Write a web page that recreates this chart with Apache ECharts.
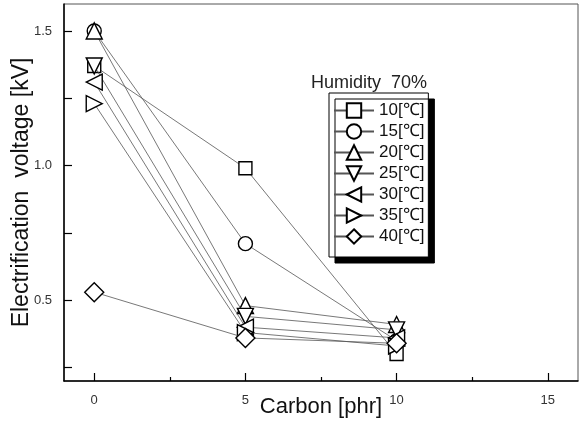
<!DOCTYPE html>
<html>
<head>
<meta charset="utf-8">
<script src="https://cdn.jsdelivr.net/npm/echarts@6/dist/echarts.min.js"></script>
<style>html,body{margin:0;padding:0;background:#fff}#c{width:582px;height:422px}</style>
</head>
<body>
<div id="c"></div>
<script>
var carbon = [0, 5, 10];
var seriesNames = ['10[℃]', '15[℃]', '20[℃]', '25[℃]', '30[℃]', '35[℃]', '40[℃]'];
var t10 = [1.37, 0.99, 0.30];
var t15 = [1.50, 0.71, 0.35];
var t20 = [1.50, 0.48, 0.41];
var t25 = [1.37, 0.44, 0.39];
var t30 = [1.31, 0.40, 0.36];
var t35 = [1.23, 0.38, 0.33];
var t40 = [0.53, 0.36, 0.34];
var xTickLabels = [0, 5, 10, 15];
var xMinorTicks = [2.5, 7.5, 12.5];
var yTickLabels = [0.5, 1.0, 1.5];
var yTicks = [0.25, 0.5, 0.75, 1.0, 1.25, 1.5];
var legendTitle = 'Humidity  70%';

var values = [t10, t15, t20, t25, t30, t35, t40];
var symbols = ['rect', 'circle', 'triangle', 'triangle', 'triangle', 'triangle', 'diamond'];
var rotates = [0, 0, 0, 180, 90, -90, 0];
var sizes = [13, 14, 16, 16, 16, 16, 19];
var FONT = 'Liberation Sans, Arial, sans-serif';

var series = values.map(function (v, i) {
  return {
    name: seriesNames[i],
    type: 'line',
    data: carbon.map(function (c, j) { return [c, v[j]]; }),
    symbol: symbols[i],
    symbolRotate: rotates[i],
    symbolSize: sizes[i],
    showAllSymbol: true,
    lineStyle: { color: '#555', width: 0.8 },
    itemStyle: { color: '#fff', borderColor: '#000', borderWidth: 1.4 },
    emphasis: { disabled: true },
    animation: false,
    z: 2 + i
  };
});

var chart = echarts.init(document.getElementById('c'), null, { renderer: 'canvas' });
chart.setOption({
  animation: false,
  backgroundColor: '#fff',
  title: {
    text: legendTitle,
    left: 311, top: 74,
    textStyle: { fontFamily: FONT, fontSize: 18, fontWeight: 'normal', color: '#222' },
    padding: 0
  },
  legend: {
    orient: 'vertical',
    left: 329, top: 93,
    itemWidth: 40, itemHeight: 18, itemGap: 4,
    padding: [9, 4, 12, 4],
    backgroundColor: '#fff',
    borderColor: '#000', borderWidth: 1,
    shadowColor: '#000', shadowBlur: 0, shadowOffsetX: 6, shadowOffsetY: 6,
    textStyle: { fontFamily: FONT, fontSize: 17, color: '#111' },
    data: seriesNames
  },
  grid: {
    left: 64, right: 4, top: 4, bottom: 41,
    outerBoundsMode: 'none', containLabel: false,
    show: true, borderColor: '#555', borderWidth: 1, backgroundColor: 'transparent'
  },
  xAxis: [{
    type: 'value', min: -1, max: 16,
    name: 'Carbon [phr]', nameLocation: 'middle', nameGap: 15, nameMoveOverlap: false,
    nameTextStyle: { fontFamily: FONT, fontSize: 22, color: '#111' },
    axisLine: { onZero: false, lineStyle: { color: '#000', width: 1.5 } },
    axisTick: { inside: true, length: 8, customValues: xTickLabels, lineStyle: { color: '#000', width: 1.2 } },
    axisLabel: { customValues: xTickLabels, margin: 13, fontFamily: FONT, fontSize: 13, color: '#333' },
    splitLine: { show: false }
  }, {
    type: 'value', min: -1, max: 16, position: 'bottom',
    axisLine: { show: false, onZero: false },
    axisTick: { inside: true, length: 4, customValues: xMinorTicks, lineStyle: { color: '#000', width: 1.2 } },
    axisLabel: { show: false },
    splitLine: { show: false }
  }],
  yAxis: {
    type: 'value', min: 0.2, max: 1.6,
    name: 'Electrification  voltage [kV]', nameLocation: 'middle', nameGap: 31, nameMoveOverlap: false,
    nameTextStyle: { fontFamily: FONT, fontSize: 23, color: '#111' },
    axisLine: { show: true, onZero: false, lineStyle: { color: '#000', width: 1.5 } },
    axisTick: { show: true, inside: true, length: 8, customValues: yTicks, lineStyle: { color: '#000', width: 1.2 } },
    axisLabel: { customValues: yTickLabels, margin: 12, fontFamily: FONT, fontSize: 13, color: '#333',
      formatter: function (v) { return v.toFixed(1); } },
    splitLine: { show: false }
  },
  series: series
});
</script>
</body>
</html>
